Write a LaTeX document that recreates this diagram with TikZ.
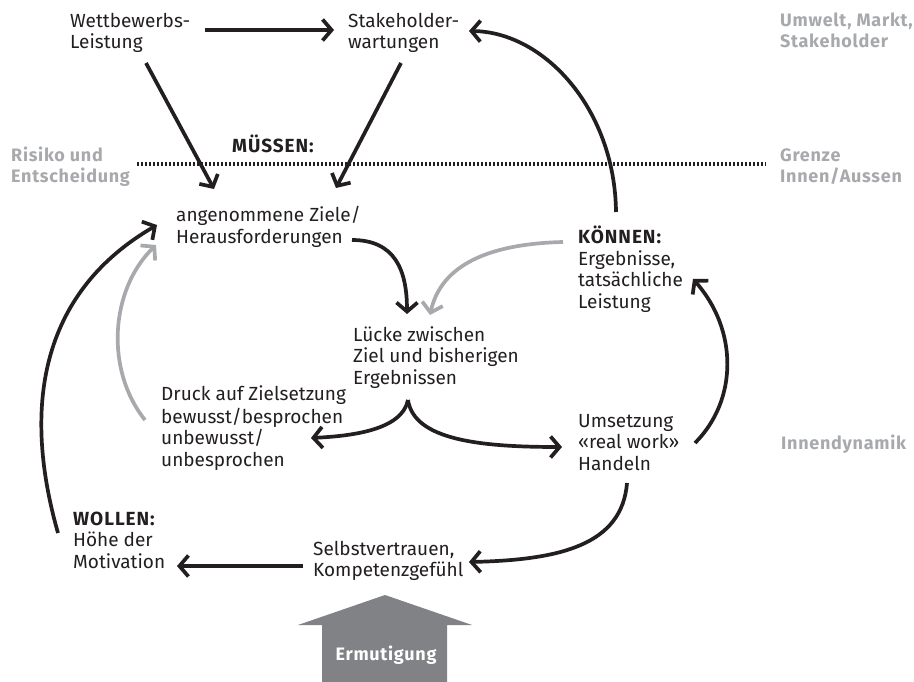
\documentclass[tikz,border=0pt]{standalone}
\usepackage{fontspec}
\setmainfont{Fira Sans}
\usetikzlibrary{arrows.meta}
\definecolor{ink}{HTML}{231F20}
\definecolor{lgray}{HTML}{A7A9AC}
\definecolor{dgray}{HTML}{808285}
\newcommand\hdr[1]{{\bfseries\addfontfeatures{LetterSpace=5}#1}}
\begin{document}
\begin{tikzpicture}[x=1pt,y=-1pt,
  txt/.style={anchor=north west,inner sep=0pt,align=left,text=ink,font=\fontsize{19}{21.5}\selectfont},
  gtxt/.style={txt,text=lgray,font=\fontsize{18}{21.5}\selectfont\bfseries\addfontfeatures{LetterSpace=4}},
  conn/.style={draw=ink,line width=3.7pt,-{Straight Barb[length=9pt,width=21pt,line width=3.7pt]}},
  gconn/.style={conn,draw=lgray},
  dotline/.style={draw=ink,line width=4pt,dash pattern=on 2.2pt off 1.8pt}]
\useasboundingbox (0,0) rectangle (914,682);
\fill[white] (0,0) rectangle (914,682);
% texts
\node[txt] (wett) at (70,12) {\strut Wettbewerbs-\\Leistung};
\node[txt] (stake) at (348,12) {\strut Stakeholder-\\wartungen};
\node[gtxt] (umwelt) at (780,11) {\strut Umwelt, Markt,\\Stakeholder};
\node[txt] (muessen) at (232,135) {\strut\hdr{MÜSSEN:}};
\node[gtxt] (risiko) at (11,146) {\strut Risiko und\\Entscheidung};
\node[gtxt] (grenze) at (780,146) {\strut Grenze\\Innen/Aussen};
\node[txt] (ziele) at (176,206) {\strut angenommene Ziele/\\Herausforderungen};
\node[txt] (koennen) at (578,226) {\strut\hdr{KÖNNEN:}\\Ergebnisse,\\tatsächliche\\Leistung};
\node[txt] (luecke) at (353,326) {\strut Lücke zwischen\\Ziel und bisherigen\\Ergebnissen};
\node[txt] (druck) at (161,385) {\strut Druck auf Zielsetzung\\bewusst/besprochen\\unbewusst/\\unbesprochen};
\node[txt] (umsetz) at (578,412) {\strut Umsetzung\\«real work»\\Handeln};
\node[gtxt] (innen) at (781,434) {\strut Innendynamik};
\node[txt] (wollen) at (73,510) {\strut\hdr{WOLLEN:}\\Höhe der\\Motivation};
\node[txt] (selbst) at (313,540) {\strut Selbstvertrauen,\\Kompetenzgefühl};
% Ermutigung arrow
\fill[dgray] (322,682) -- (322,625) -- (298,625) -- (385,595) -- (472,625) -- (447,625) -- (447,682) -- cycle;
\node[anchor=base,inner sep=0pt,text=white,font=\fontsize{18}{20}\selectfont\bfseries\addfontfeatures{LetterSpace=4}] (ermut) at (386,660) {Ermutigung};
% dotted boundary
\coordinate (dl1) at (137,164);
\coordinate (dl2) at (766,164);
\draw[dotline] (dl1) -- (dl2);
% connector end points
\coordinate (wettR) at (205,30);
\coordinate (stakeL) at (334,30);
\coordinate (wettB) at (146,63);
\coordinate (zieleTL) at (214,189);
\coordinate (stakeB) at (401,63);
\coordinate (zieleTR) at (336,188);
\coordinate (koennenT) at (616,212);
\coordinate (stakeR) at (469,31);
\coordinate (zieleR) at (352,240);
\coordinate (lueckeT1) at (407,314);
\coordinate (koennenL) at (563,242);
\coordinate (lueckeT2) at (430,315);
\coordinate (lueckeB) at (408,400);
\coordinate (druckR) at (311,438);
\coordinate (umsetzL) at (562,447);
\coordinate (umsetzR) at (695,443);
\coordinate (koennenR) at (693,279);
\coordinate (umsetzB) at (627,483);
\coordinate (selbstR) at (469,562);
\coordinate (selbstL) at (303,566);
\coordinate (wollenR) at (177,566);
\coordinate (wollenT) at (58,533);
\coordinate (zieleL1) at (157,225);
\coordinate (druckL) at (145,420);
\coordinate (zieleL2) at (156,245);
% connectors
\draw[conn] (wettR) -- (stakeL);
\draw[conn] (wettB) -- (zieleTL);
\draw[conn] (stakeB) -- (zieleTR);
\draw[conn] (koennenT) .. controls (615,110) and (545,32) .. (stakeR);
\draw[conn] (zieleR) .. controls (395,240) and (407,270) .. (lueckeT1);
\draw[gconn] (koennenL) .. controls (480,244) and (440,270) .. (lueckeT2);
\draw[conn] (lueckeB) .. controls (402,430) and (352,436) .. (druckR);
\draw[conn] (lueckeB) .. controls (414,440) and (480,447) .. (umsetzL);
\draw[conn] (umsetzR) .. controls (738,400) and (738,330) .. (koennenR);
\draw[conn] (umsetzB) .. controls (622,545) and (560,560) .. (selbstR);
\draw[conn] (selbstL) -- (wollenR);
\draw[conn] (wollenT) .. controls (20,400) and (45,290) .. (zieleL1);
\draw[gconn] (druckL) .. controls (105,370) and (110,290) .. (zieleL2);
\end{tikzpicture}
\end{document}
